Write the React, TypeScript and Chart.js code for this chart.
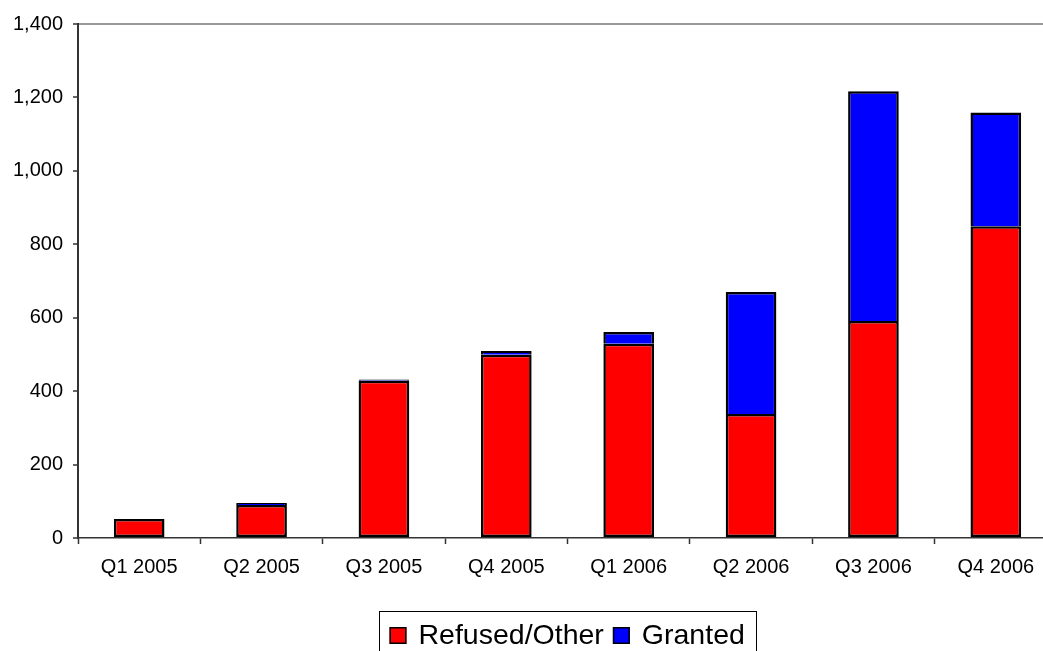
import React, { useEffect, useRef } from 'react';
import { Chart, registerables } from 'chart.js';

Chart.register(...registerables);

const categories = ['Q1 2005', 'Q2 2005', 'Q3 2005', 'Q4 2005', 'Q1 2006', 'Q2 2006', 'Q3 2006', 'Q4 2006'];
const refusedOther = [52, 90, 428, 499, 529, 338, 591, 849];
const granted = [0, 5, 4, 10, 32, 332, 626, 310];
const yTickValues = [0, 200, 400, 600, 800, 1000, 1200, 1400];

const FONT = '"Liberation Sans", Arial, Helvetica, sans-serif';

const legendBoxPlugin = {
  id: 'legendBox',
  afterDraw(chart: any) {
    const { ctx, chartArea } = chart;
    ctx.save();
    ctx.font = `28.5px ${FONT}`;
    const sq = 17;
    const gap = 12;
    const padL = 10;
    const padR = 12;
    const itemGap = 9;
    const items = chart.data.datasets.map((ds: any) => ({
      label: ds.label as string,
      color: ds.backgroundColor as string,
      w: ctx.measureText(ds.label).width,
    }));
    let total = padL + padR;
    items.forEach((it: any, i: number) => {
      total += sq + gap + it.w + (i > 0 ? itemGap : 0);
    });
    const cx = (chartArea.left + chartArea.right) / 2;
    const top = chartArea.bottom + 73;
    const left = Math.round(cx - total / 2) + 0.5;
    ctx.strokeStyle = '#000';
    ctx.lineWidth = 1;
    ctx.strokeRect(left, top + 0.5, Math.round(total), 48);
    let x = left + padL;
    const baseline = top + 33;
    items.forEach((it: any, i: number) => {
      if (i > 0) x += itemGap;
      ctx.fillStyle = it.color;
      ctx.fillRect(x, baseline - sq, sq, sq);
      ctx.strokeStyle = '#000';
      ctx.lineWidth = 1.5;
      ctx.strokeRect(x + 0.75, baseline - sq + 0.75, sq - 1.5, sq - 1.5);
      x += sq + gap;
      ctx.fillStyle = '#000';
      ctx.textBaseline = 'alphabetic';
      ctx.textAlign = 'left';
      ctx.fillText(it.label, x, baseline);
      x += it.w;
    });
    ctx.restore();
  },
};

export default function App() {
  const canvasRef = useRef<HTMLCanvasElement | null>(null);

  useEffect(() => {
    const canvas = canvasRef.current;
    if (!canvas) return;
    const chart = new Chart(canvas, {
      type: 'bar',
      data: {
        labels: categories,
        datasets: [
          {
            label: 'Refused/Other',
            data: refusedOther,
            backgroundColor: '#FF0000',
            borderColor: '#000000',
            borderWidth: 2.5,
            borderSkipped: false,
            barPercentage: 0.414,
            categoryPercentage: 1,
          },
          {
            label: 'Granted',
            data: granted,
            backgroundColor: '#0000FF',
            borderColor: '#000000',
            borderWidth: 2.5,
            borderSkipped: 'start',
            barPercentage: 0.414,
            categoryPercentage: 1,
          },
        ],
      },
      options: {
        responsive: false,
        animation: false,
        devicePixelRatio: 1,
        layout: { padding: { left: 0, right: 77, top: 24, bottom: 102 } },
        plugins: {
          legend: { display: false },
          tooltip: { enabled: false },
        },
        scales: {
          x: {
            stacked: true,
            grid: {
              display: true,
              drawOnChartArea: false,
              drawTicks: true,
              tickLength: 6,
              tickColor: '#333',
              tickWidth: 1.5,
              offset: true,
            },
            border: { display: true, color: '#333', width: 1.5 },
            ticks: {
              color: '#000',
              font: { family: FONT, size: 20 },
              padding: 11,
              maxRotation: 0,
              autoSkip: false,
            },
            afterFit: (s: any) => {
              s.height = 40;
            },
          },
          y: {
            stacked: true,
            min: 0,
            max: 1400,
            grid: {
              drawOnChartArea: true,
              color: (c: any) => (c.tick && c.tick.value === 1400 ? '#999' : 'rgba(0,0,0,0)'),
              lineWidth: 2,
              drawTicks: true,
              tickLength: 5,
              tickColor: '#333',
              tickWidth: 1.5,
            },
            border: { display: true, color: '#333', width: 2 },
            afterBuildTicks: (s: any) => {
              s.ticks = yTickValues.map((v) => ({ value: v }));
            },
            ticks: {
              color: '#000',
              font: { family: FONT, size: 20 },
              padding: 10,
              callback: (v: any) => Number(v).toLocaleString('en-US'),
            },
            afterFit: (s: any) => {
              s.width = 78;
            },
          },
        },
      },
      plugins: [legendBoxPlugin],
    });
    return () => chart.destroy();
  }, []);

  return (
    <div
      style={{
        position: 'fixed',
        left: 0,
        top: 0,
        width: '1043px',
        height: '651px',
        overflow: 'hidden',
        background: '#fff',
      }}
    >
      <canvas
        ref={canvasRef}
        width={1134}
        height={680}
        style={{ width: '1134px', height: '680px', display: 'block' }}
      />
    </div>
  );
}
